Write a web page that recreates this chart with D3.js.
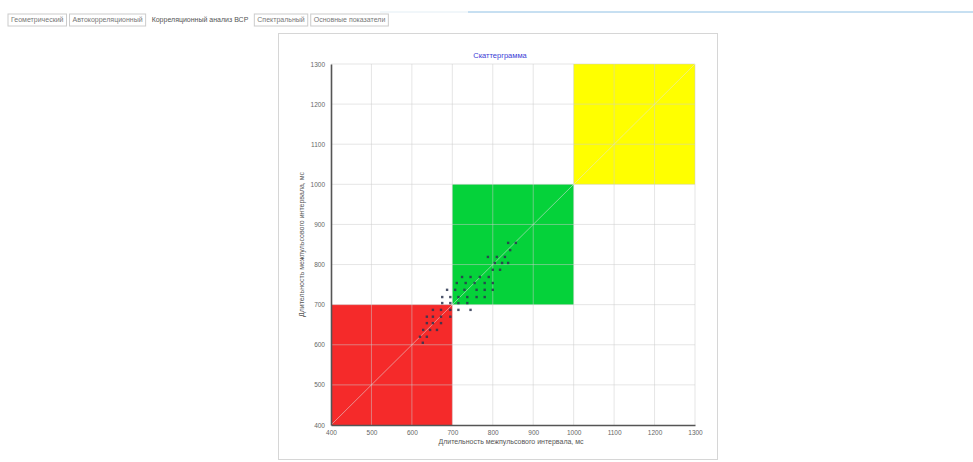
<!DOCTYPE html>
<html>
<head>
<meta charset="utf-8">
<script src="https://cdn.jsdelivr.net/npm/d3@7"></script>
<style>
  body { margin: 0; background: #fff; font-family: "Liberation Sans", Arial, sans-serif; }
  .tick text { fill: #666; font-size: 6.5px; }
</style>
</head>
<body>
<script>
// Tabs of the window
const tabs = ["Геометрический", "Автокорреляционный", "Корреляционный анализ ВСР", "Спектральный", "Основные показатели"];
const activeTab = 2;

// Axis ticks (ms)
const ticks = [400, 500, 600, 700, 800, 900, 1000, 1100, 1200, 1300];

// Zones of the scatterogram (ms)
const zoneFrom = [400, 700, 1000];
const zoneTo = [700, 1000, 1300];

// RR(n) and RR(n+1) pairs, ms
const rrX = [838, 857, 843, 788, 810, 830, 805, 823, 838, 800, 818,
  724, 745, 768, 790, 711, 733, 755, 780, 800,
  687, 707, 730, 760, 780, 800, 675, 695, 715, 737, 760, 780,
  675, 695, 715, 737, 652, 672, 695, 715, 745,
  637, 652, 672, 695, 637, 652, 672, 628, 645, 662, 620, 637, 627];
const rrY = [854, 854, 836, 819, 819, 819, 804, 804, 804, 787, 787,
  769, 769, 769, 769, 754, 754, 754, 754, 754,
  737, 737, 737, 737, 737, 737, 719, 719, 719, 719, 719, 719,
  704, 704, 704, 704, 687, 687, 687, 687, 687,
  670, 670, 670, 670, 654, 654, 654, 637, 637, 637, 620, 620, 605];

const zoneColors = ["#f52a2a", "#05d23a", "#ffff00"];

const svg = d3.select("body").append("svg")
  .attr("width", 973)
  .attr("height", 462);

// Top tab strip
svg.append("line")
  .attr("x1", 380).attr("x2", 468).attr("y1", 12).attr("y2", 12)
  .attr("stroke", "#e3eef5").attr("stroke-width", 1);
svg.append("line")
  .attr("x1", 468).attr("x2", 973).attr("y1", 12).attr("y2", 12)
  .attr("stroke", "#8fc0e4").attr("stroke-width", 1);

let tx = 8;
tabs.forEach((t, i) => {
  const txt = svg.append("text")
    .attr("x", tx + 3).attr("y", 22)
    .attr("font-size", 7)
    .attr("fill", i === activeTab ? "#555" : "#777")
    .text(t);
  const w = txt.node().getComputedTextLength() + 6;
  if (i !== activeTab) {
    svg.append("rect")
      .attr("x", tx).attr("y", 14).attr("width", w).attr("height", 12)
      .attr("fill", "none").attr("stroke", "#ccc");
  }
  tx += w + 3;
});

// Panel
svg.append("rect")
  .attr("x", 278.5).attr("y", 33.5).attr("width", 439).attr("height", 426)
  .attr("fill", "#fff").attr("stroke", "#d6d6d6");

const x = d3.scaleLinear().domain([400, 1300]).range([331, 695]);
const y = d3.scaleLinear().domain([400, 1300]).range([425, 64]);

const g = svg.append("g");

// Zones
g.selectAll("rect.zone")
  .data(zoneFrom)
  .join("rect")
  .attr("class", "zone")
  .attr("x", (d, i) => x(d))
  .attr("y", (d, i) => y(zoneTo[i]))
  .attr("width", (d, i) => x(zoneTo[i]) - x(d))
  .attr("height", (d, i) => y(d) - y(zoneTo[i]))
  .attr("fill", (d, i) => zoneColors[i]);

// Grid on top of zones
g.append("g")
  .selectAll("line")
  .data(ticks.slice(1))
  .join("line")
  .attr("x1", d => x(d)).attr("x2", d => x(d))
  .attr("y1", y(400)).attr("y2", y(1300))
  .attr("stroke", "rgba(205,205,205,0.5)");
g.append("g")
  .selectAll("line")
  .data(ticks.slice(1))
  .join("line")
  .attr("y1", d => y(d)).attr("y2", d => y(d))
  .attr("x1", x(400)).attr("x2", x(1300))
  .attr("stroke", "rgba(205,205,205,0.5)");

// Identity line
g.append("line")
  .attr("x1", x(400)).attr("y1", y(400))
  .attr("x2", x(1300)).attr("y2", y(1300))
  .attr("stroke", "rgba(225,225,225,0.55)");

// Points
g.selectAll("rect.pt")
  .data(rrX)
  .join("rect")
  .attr("class", "pt")
  .attr("x", d => x(d) - 1.2)
  .attr("y", (d, i) => y(rrY[i]) - 1.2)
  .attr("width", 2.4).attr("height", 2.4)
  .attr("fill", "#2b3550")
  .attr("opacity", 0.85);

// Axes
const xAxis = g.append("g")
  .attr("transform", `translate(0,${y(400)})`)
  .call(d3.axisBottom(x).tickValues(ticks).tickFormat(d3.format("d")).tickSize(0).tickPadding(5));
const yAxis = g.append("g")
  .attr("transform", `translate(${x(400)},0)`)
  .call(d3.axisLeft(y).tickValues(ticks).tickFormat(d3.format("d")).tickSize(0).tickPadding(6));
[xAxis, yAxis].forEach(a => {
  a.select(".domain").attr("stroke", "#555").attr("stroke-width", 1.6);
});

// Title and axis labels
svg.append("text")
  .attr("x", 500).attr("y", 58)
  .attr("text-anchor", "middle")
  .attr("font-size", 7.5)
  .attr("fill", "#3b3bd6")
  .text("Скаттерграмма");

svg.append("text")
  .attr("x", 511).attr("y", 444)
  .attr("text-anchor", "middle")
  .attr("font-size", 7)
  .attr("fill", "#555")
  .text("Длительность межпульсового интервала, мс");

svg.append("text")
  .attr("transform", `translate(304,${(y(400) + y(1300)) / 2}) rotate(-90)`)
  .attr("text-anchor", "middle")
  .attr("font-size", 7)
  .attr("fill", "#555")
  .text("Длительность межпульсового интервала, мс");
</script>
</body>
</html>
